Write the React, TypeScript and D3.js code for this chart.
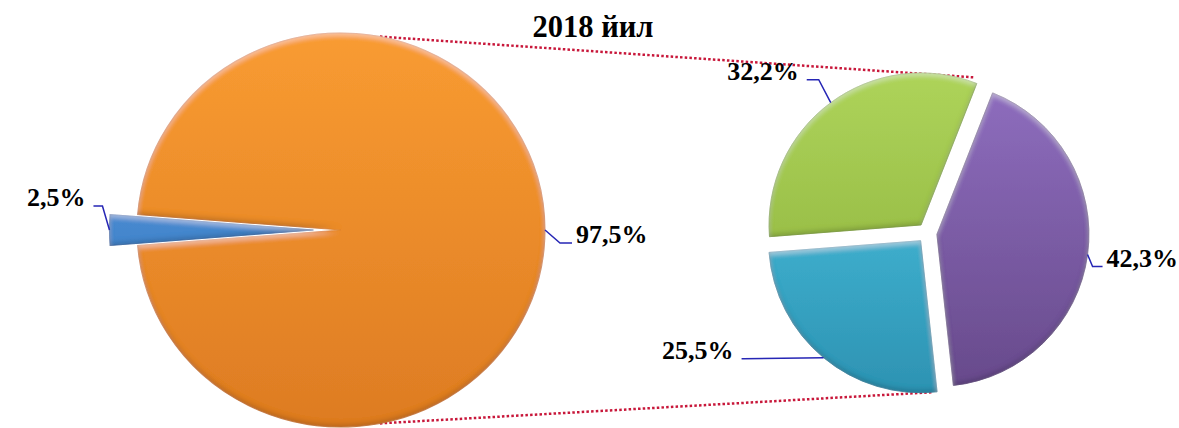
import React from "react";
import * as d3 from "d3";

const title = "2018 йил";
const mainLabels = ["2,5%", "97,5%"];
const mainValues = [2.5, 97.5];
const mainColors = [
  ["#5FA2E8", "#2B6CB3"],
  ["#FA9D32", "#DC7A22"],
];
const subLabels = ["42,3%", "25,5%", "32,2%"];
const subValues = [42.3, 25.5, 32.2];
const subColors = [
  ["#9170C2", "#654888"],
  ["#4FCBE8", "#2B8FAF"],
  ["#B0D65C", "#87AC38"],
];

const W = 1179;
const H = 428;
const deg = Math.PI / 180;

type Leader = { ex: number; ey: number; h: number };
const mainLeaders: Leader[] = [
  { ex: -7, ey: -24, h: -9 },
  { ex: 15, ey: 13, h: 12 },
];
const subLeaders: Leader[] = [
  { ex: 5, ey: 12, h: 10 },
  { ex: -80, ey: 1, h: -2 },
  { ex: -12, ey: -23, h: -12 },
];

type Geo = {
  cx: number;
  cy: number;
  r: number;
  sx: number;
  sy: number;
  start: number;
  explode: number[];
};

const mainGeo: Geo = { cx: 341, cy: 230, r: 200, sx: 1.02, sy: 0.985, start: 265.5, explode: [27, 0] };
const subGeo: Geo = { cx: 927, cy: 233, r: 152, sx: 1, sy: 1, start: 21.5, explode: [10, 10, 10] };

function layout(values: number[], g: Geo) {
  const pie = d3
    .pie<number>()
    .sort(null)
    .value((d) => d)
    .startAngle(g.start * deg)
    .endAngle((g.start + 360) * deg)(values);
  return pie.map((p, i) => {
    const mid = (p.startAngle + p.endAngle) / 2;
    const ox = g.explode[i] * Math.sin(mid);
    const oy = -g.explode[i] * Math.cos(mid);
    const pt = (a: number, rr: number) => ({
      x: g.cx + g.sx * (ox + rr * Math.sin(a)),
      y: g.cy + g.sy * (oy - rr * Math.cos(a)),
    });
    return { p, mid, ox, oy, pt };
  });
}

const leaderColor = "#2626B5";
const font = "'Liberation Serif', 'Times New Roman', serif";

function Pie({ values, labels, colors, g, leaders, idp }: any) {
  const arc = d3.arc<any>().innerRadius(0).outerRadius(g.r);
  const slices = layout(values, g);
  return (
    <g>
      {slices.map((s: any, i: number) => (
        <g key={i} transform={`translate(${g.cx},${g.cy}) scale(${g.sx},${g.sy}) translate(${s.ox},${s.oy})`}>
          <path
            d={arc(s.p) as string}
            fill={`url(#${idp}${i})`}
            filter="url(#bevel)"
            stroke={colors[i][1]}
            strokeOpacity={0.8}
            strokeWidth={1}
          />
        </g>
      ))}
      {slices.map((s: any, i: number) => {
        const a = s.pt(s.mid, g.r);
        const L = leaders[i];
        const e = { x: a.x + L.ex, y: a.y + L.ey };
        const end = { x: e.x + L.h, y: e.y };
        const right = L.h > 0;
        return (
          <g key={"l" + i}>
            <path
              d={`M${a.x},${a.y}L${e.x},${e.y}L${end.x},${end.y}`}
              fill="none"
              stroke={leaderColor}
              strokeWidth={1.5}
            />
            <text
              x={end.x + (right ? 4 : -8)}
              y={end.y}
              textAnchor={right ? "start" : "end"}
              fontFamily={font}
              fontWeight="bold"
              fontSize={26}
              fill="#000"
            >
              {labels[i]}
            </text>
          </g>
        );
      })}
    </g>
  );
}

export default function App() {
  const main = layout(mainValues, mainGeo);
  const sub = layout(subValues, subGeo);
  // series lines: from main pie edge to corners of the secondary pie
  const topL = main[1].pt(11 * deg, mainGeo.r);
  const botL = main[1].pt(169 * deg, mainGeo.r);
  const green = sub[2];
  const cyan = sub[1];
  const topR = green.pt(green.p.endAngle - 1.5 * deg, subGeo.r + 5);
  const botR = cyan.pt(cyan.p.startAngle + 2 * deg, subGeo.r);

  const grads = (arr: string[][], idp: string, g: Geo) =>
    arr.map((c, i) => (
      <linearGradient
        key={idp + i}
        id={idp + i}
        gradientUnits="userSpaceOnUse"
        x1={0}
        y1={-g.r - 20}
        x2={0}
        y2={g.r + 20}
      >
        <stop offset="0" stopColor={c[0]} />
        <stop offset="1" stopColor={c[1]} />
      </linearGradient>
    ));

  return (
    <svg
      width={W}
      height={H}
      style={{ position: "absolute", left: 0, top: 0, background: "#fff" }}
    >
      <defs>
        {grads(mainColors, "mg", mainGeo)}
        {grads(subColors, "sg", subGeo)}
        <filter id="bevel" x="-5%" y="-5%" width="110%" height="110%">
          <feGaussianBlur in="SourceAlpha" stdDeviation="2.5" result="b" />
          <feOffset in="b" dx="0" dy="3" result="bd" />
          <feComposite in="SourceAlpha" in2="bd" operator="out" result="topEdge" />
          <feFlood floodColor="#ffffff" floodOpacity="0.35" result="fw" />
          <feComposite in="fw" in2="topEdge" operator="in" result="hl" />
          <feOffset in="b" dx="0" dy="-3" result="bu" />
          <feComposite in="SourceAlpha" in2="bu" operator="out" result="botEdge" />
          <feFlood floodColor="#000000" floodOpacity="0.35" result="fb" />
          <feComposite in="fb" in2="botEdge" operator="in" result="sh" />
          <feMerge>
            <feMergeNode in="SourceGraphic" />
            <feMergeNode in="hl" />
            <feMergeNode in="sh" />
          </feMerge>
        </filter>
      </defs>
      <rect width={W} height={H} fill="#fff" />
      <line x1={topL.x} y1={topL.y} x2={topR.x} y2={topR.y} stroke="#C8173A" strokeWidth={2.5} strokeDasharray="2.5 2.2" />
      <line x1={botL.x} y1={botL.y} x2={botR.x} y2={botR.y} stroke="#C8173A" strokeWidth={2.5} strokeDasharray="2.5 2.2" />
      <Pie values={mainValues} labels={mainLabels} colors={mainColors} g={mainGeo} leaders={mainLeaders} idp="mg" />
      <Pie values={subValues} labels={subLabels} colors={subColors} g={subGeo} leaders={subLeaders} idp="sg" />
      <text x={593} y={37} textAnchor="middle" fontFamily={font} fontWeight="bold" fontSize={30.5} fill="#000">
        {title}
      </text>
    </svg>
  );
}
